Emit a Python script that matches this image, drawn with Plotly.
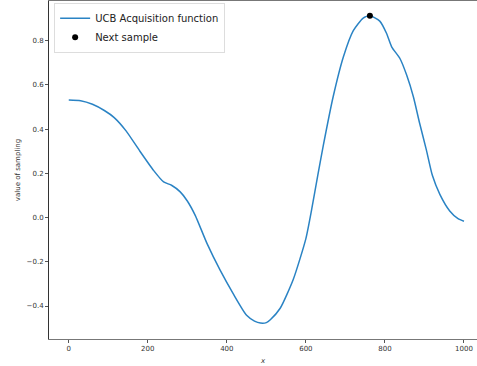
import plotly.graph_objects as go

x_vals = [0, 30, 60, 90, 115, 145, 180, 215, 240, 260, 282, 300, 320, 350, 383, 416,
          450, 470, 485, 500, 510, 535, 568, 600, 615, 630, 644, 669, 695, 720, 745,
          762, 787, 804, 817, 838, 855, 872, 888, 905, 920, 939, 964, 985, 1000]
ucb_vals = [0.531, 0.528, 0.512, 0.484, 0.452, 0.392, 0.300, 0.212, 0.161, 0.146, 0.116,
            0.075, 0.010, -0.118, -0.238, -0.344, -0.442, -0.468, -0.477, -0.475, -0.462,
            -0.410, -0.280, -0.095, 0.040, 0.190, 0.325, 0.546, 0.727, 0.845, 0.902,
            0.912, 0.888, 0.833, 0.772, 0.719, 0.644, 0.546, 0.425, 0.305, 0.191, 0.105,
            0.030, -0.005, -0.017]
next_x = [762]
next_y = [0.912]

x_ticks = [0, 200, 400, 600, 800, 1000]
y_ticks = [-0.4, -0.2, 0.0, 0.2, 0.4, 0.6, 0.8]

fig = go.Figure()
fig.add_trace(go.Scatter(x=x_vals, y=ucb_vals, mode="lines", name="UCB Acquisition function",
                         line=dict(color="#2a83c4", width=1.5, shape="spline", smoothing=0.6)))
fig.add_trace(go.Scatter(x=next_x, y=next_y, mode="markers", name="Next sample",
                         marker=dict(color="black", size=6)))

fig.update_layout(
    width=477, height=366,
    margin=dict(l=49, r=0, t=1, b=27),
    paper_bgcolor="white", plot_bgcolor="white",
    font=dict(family="DejaVu Sans", size=7, color="#333"),
    showlegend=True,
    legend=dict(x=0.012, y=0.995, xanchor="left", yanchor="top",
                bgcolor="rgba(255,255,255,0.8)", bordercolor="#dddddd", borderwidth=1,
                font=dict(size=10, color="#222"), tracegroupgap=0, itemwidth=30),
)
fig.update_xaxes(range=[-50, 1033], tickvals=x_ticks, showgrid=False, zeroline=False,
                 showline=True, linecolor="#777", linewidth=1, mirror=True,
                 ticks="outside", ticklen=3, tickcolor="#555",
                 title=dict(text="<i>x</i>", font=dict(size=7), standoff=5))
fig.update_yaxes(range=[-0.549, 0.979], tickvals=y_ticks, tickformat=".1f", showgrid=False,
                 zeroline=False, showline=True, linecolor="#333", linewidth=1,
                 ticks="outside", ticklen=3, tickcolor="#555",
                 title=dict(text="value of sampling", font=dict(size=7), standoff=5))

fig.write_html("out.html")
